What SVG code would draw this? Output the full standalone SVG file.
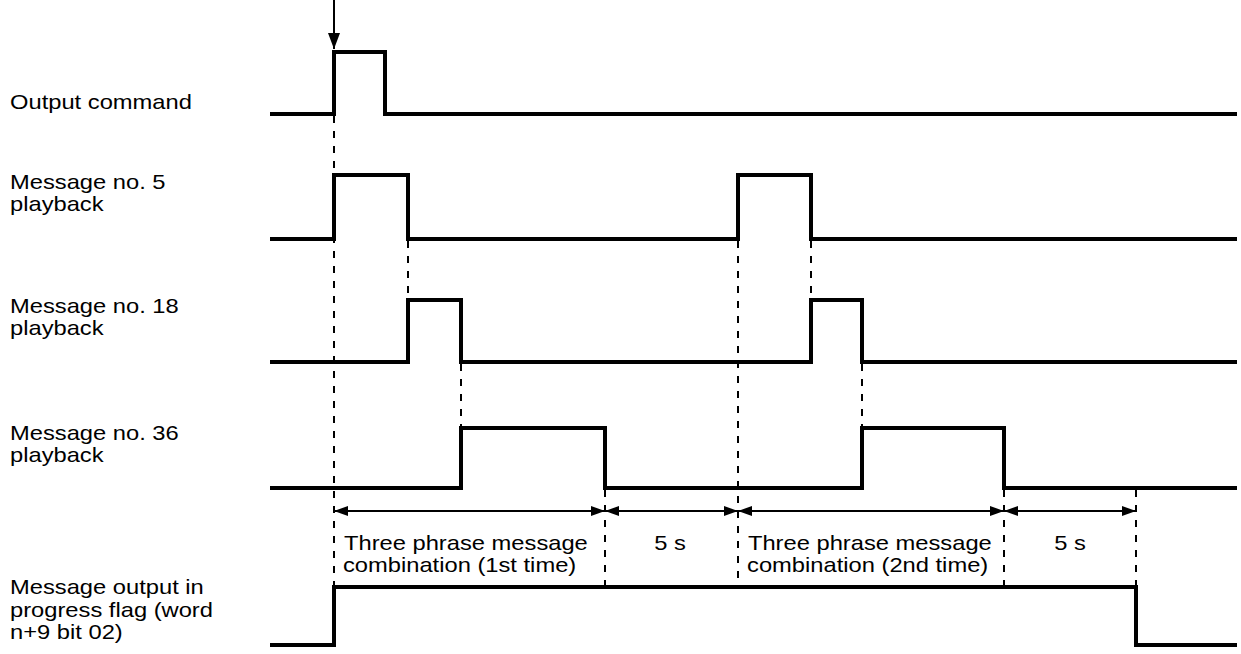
<svg xmlns="http://www.w3.org/2000/svg" width="1241" height="654" viewBox="0 0 1241 654">
<style>
.sig{fill:none;stroke:#000;stroke-width:4;stroke-linejoin:miter;stroke-linecap:butt}
.dash{fill:none;stroke:#000;stroke-width:2;stroke-dasharray:7 8}
.dim{fill:none;stroke:#000;stroke-width:2}
text{font-family:"Liberation Sans",Arial,sans-serif;font-size:21px;fill:#000}
</style>
<defs>
<marker id="ah" viewBox="0 0 14 10" refX="14" refY="5" markerWidth="14" markerHeight="10" markerUnits="userSpaceOnUse" orient="auto-start-reverse">
<path d="M0,0 L14,5 L0,10 Z" fill="#000"/>
</marker>
<marker id="ah2" viewBox="0 0 16 12" refX="16" refY="6" markerWidth="16" markerHeight="12" markerUnits="userSpaceOnUse" orient="auto">
<path d="M0,0 L16,6 L0,12 Z" fill="#000"/>
</marker>
</defs>
<rect width="1241" height="654" fill="#fff"/>
<g id="labels" transform="scale(1.13 1)">
<text x="8.85" y="109">Output command</text>
<text x="8.85" y="189">Message no. 5</text>
<text x="8.85" y="211">playback</text>
<text x="8.85" y="313">Message no. 18</text>
<text x="8.85" y="335">playback</text>
<text x="8.85" y="440">Message no. 36</text>
<text x="8.85" y="462">playback</text>
<text x="8.85" y="594">Message output in</text>
<text x="8.85" y="617">progress flag (word</text>
<text x="8.85" y="639">n+9 bit 02)</text>
</g>
<g id="signal-output-command">
<polyline class="sig" points="270,114 334,114 334,52 385,52 385,114 1237,114"/>
</g>
<g id="signal-msg5">
<polyline class="sig" points="270,239 334,239 334,175 408,175 408,239 738,239 738,175 811,175 811,239 1237,239"/>
</g>
<g id="signal-msg18">
<polyline class="sig" points="270,362 408,362 408,300 461,300 461,362 811,362 811,300 862,300 862,362 1237,362"/>
</g>
<g id="signal-msg36">
<polyline class="sig" points="270,488 461,488 461,428 605,428 605,488 862,488 862,428 1004,428 1004,488 1237,488"/>
</g>
<g id="signal-flag">
<polyline class="sig" points="270,645 334,645 334,587 1136,587 1136,645 1237,645"/>
</g>
<g id="connectors">
<line class="dim" x1="334" y1="0" x2="334" y2="49" marker-end="url(#ah2)"/>
<line class="dash" x1="334" y1="116" x2="334" y2="585"/>
<line class="dash" x1="408" y1="241" x2="408" y2="300"/>
<line class="dash" x1="461" y1="364" x2="461" y2="428"/>
<line class="dash" x1="605" y1="490" x2="605" y2="585"/>
<line class="dash" x1="738" y1="241" x2="738" y2="585"/>
<line class="dash" x1="811" y1="241" x2="811" y2="300"/>
<line class="dash" x1="862" y1="364" x2="862" y2="428"/>
<line class="dash" x1="1004" y1="490" x2="1004" y2="585"/>
<line class="dash" x1="1136" y1="490" x2="1136" y2="585"/>
<line class="dim" x1="334" y1="511" x2="605" y2="511" marker-start="url(#ah)" marker-end="url(#ah)"/>
<line class="dim" x1="605" y1="511" x2="738" y2="511" marker-start="url(#ah)" marker-end="url(#ah)"/>
<line class="dim" x1="738" y1="511" x2="1004" y2="511" marker-start="url(#ah)" marker-end="url(#ah)"/>
<line class="dim" x1="1004" y1="511" x2="1136" y2="511" marker-start="url(#ah)" marker-end="url(#ah)"/>
</g>
<g id="dim-labels" transform="scale(1.13 1)">
<text x="304.4" y="550">Three phrase message</text>
<text x="303.5" y="572">combination (1st time)</text>
<text x="592.9" y="550" text-anchor="middle">5 s</text>
<text x="661.9" y="550">Three phrase message</text>
<text x="661.1" y="572">combination (2nd time)</text>
<text x="946.9" y="550" text-anchor="middle">5 s</text>
</g>
</svg>
